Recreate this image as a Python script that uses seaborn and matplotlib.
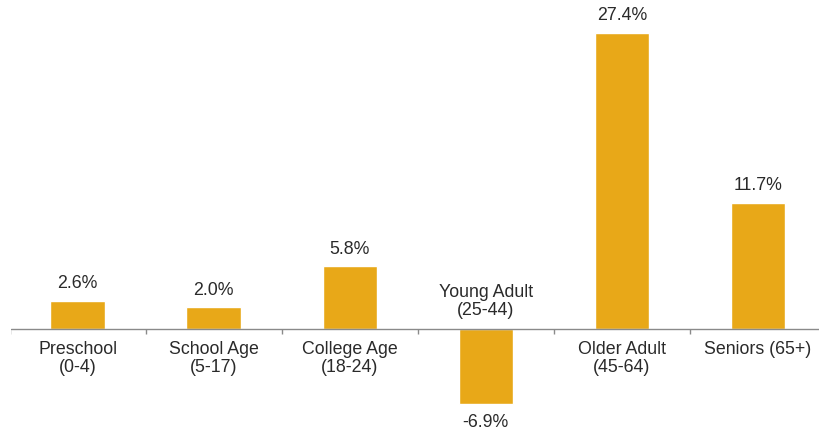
import matplotlib
matplotlib.use("Agg")
import matplotlib.pyplot as plt
import seaborn as sns
import pandas as pd

categories = ["Preschool\n(0-4)", "School Age\n(5-17)", "College Age\n(18-24)",
              "Young Adult\n(25-44)", "Older Adult\n(45-64)", "Seniors (65+)"]
values = [2.6, 2.0, 5.8, -6.9, 27.4, 11.7]
value_labels = ["2.6%", "2.0%", "5.8%", "-6.9%", "27.4%", "11.7%"]

sns.set_style("white")
plt.rcParams["font.family"] = ["Liberation Sans", "DejaVu Sans"]

bar_color = "#E8A818"
text_color = "#2a2a2a"
axis_color = "#8a8a8a"

df = pd.DataFrame({"group": categories, "change": values})

fig = plt.figure(figsize=(8.19, 4.31), dpi=100)
ax = fig.add_axes([11 / 819, 0, 1 - 11 / 819, 1])

sns.barplot(data=df, x="group", y="change", color=bar_color, width=0.4,
            saturation=1, ax=ax)

ax.set_xlim(-0.49, 5.45)
ax.set_ylim(-9.35, 30.56)
for s in ax.spines.values():
    s.set_visible(False)
ax.set_xticks([])
ax.set_yticks([])
ax.set_xlabel("")
ax.set_ylabel("")

# zero baseline with small separator ticks between groups
ax.axhline(0, color=axis_color, lw=1.0, zorder=3)
n = len(categories)
for b in range(n):
    ax.plot([b - 0.5, b - 0.5], [0, -0.45], color=axis_color, lw=1.0,
            zorder=3, solid_capstyle="butt")

fs = 12.8
for i, (cat, v, lab) in enumerate(zip(categories, values, value_labels)):
    if v >= 0:
        ax.annotate(lab, (i, v), xytext=(0, 7), textcoords="offset points",
                    ha="center", va="bottom", fontsize=fs, color=text_color)
        ax.annotate(cat, (i, 0), xytext=(0, -8), textcoords="offset points",
                    ha="center", va="top", fontsize=fs, color=text_color,
                    linespacing=1.05)
    else:
        ax.annotate(lab, (i, v), xytext=(0, -7), textcoords="offset points",
                    ha="center", va="top", fontsize=fs, color=text_color)
        ax.annotate(cat, (i, 0), xytext=(0, 8), textcoords="offset points",
                    ha="center", va="bottom", fontsize=fs, color=text_color,
                    linespacing=1.05)

fig.savefig("out.png", dpi=100)
